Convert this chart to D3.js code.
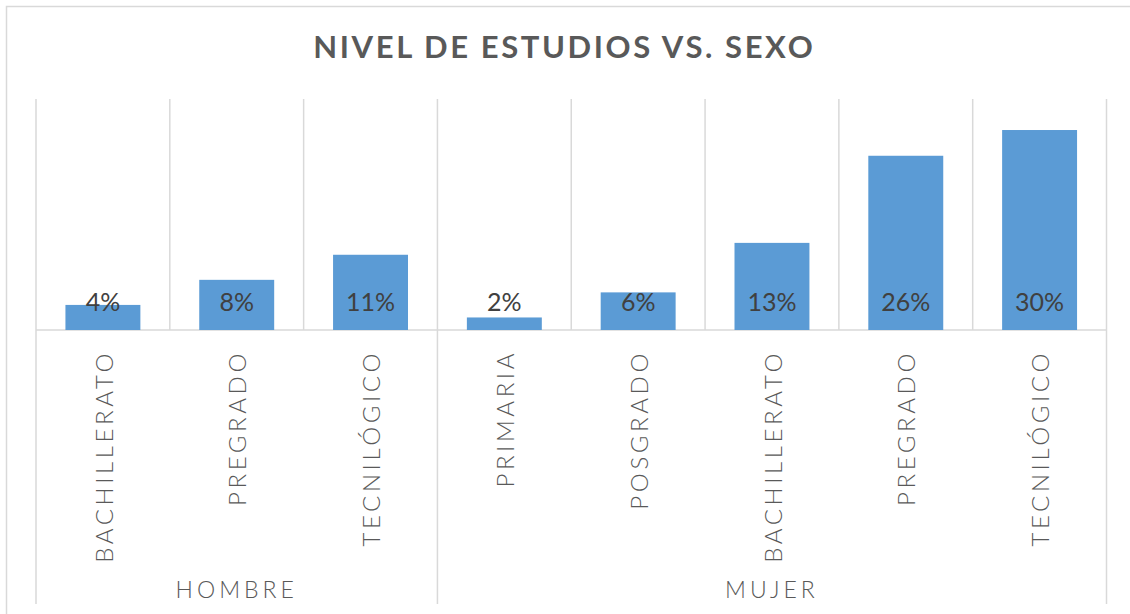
<!DOCTYPE html>
<html>
<head>
<meta charset="utf-8">
<script src="https://cdn.jsdelivr.net/npm/d3@7"></script>
<style>
  body { margin: 0; background: #fff; }
  svg { display: block; }
</style>
</head>
<body>
<svg id="chart" width="1130" height="614"></svg>
<script>
const title = "NIVEL DE ESTUDIOS VS. SEXO";
const groups = ["HOMBRE", "MUJER"];
const groupOf = ["HOMBRE", "HOMBRE", "HOMBRE", "MUJER", "MUJER", "MUJER", "MUJER", "MUJER"];
const categories = ["BACHILLERATO", "PREGRADO", "TECNILÓGICO", "PRIMARIA", "POSGRADO", "BACHILLERATO", "PREGRADO", "TECNILÓGICO"];
const values = [0.038, 0.076, 0.114, 0.019, 0.057, 0.132, 0.264, 0.303];
const yMax = 0.35;

(function () {
const svg = d3.select("#chart");
const W = 1130, H = 614;
const pLeft = 36, pRight = 1106.5, pTop = 99, base = 330;

svg.append("rect").attr("x", 0).attr("y", 0).attr("width", W).attr("height", H).attr("fill", "#fff");
svg.append("rect").attr("x", 6.5).attr("y", 6.5).attr("width", W + 20).attr("height", H + 20)
  .attr("fill", "none").attr("stroke", "#d9d9d9").attr("stroke-width", 1.5);

const idx = d3.range(categories.length);
const x = d3.scaleBand().domain(idx).range([pLeft, pRight]).padding(0);
const y = d3.scaleLinear().domain([0, yMax]).range([base, pTop]);
const barW = x.bandwidth() * 0.56;

const grid = svg.append("g").attr("stroke", "#d9d9d9").attr("stroke-width", 1.5);
idx.concat([categories.length]).forEach(i => {
  const xp = i < categories.length ? x(i) : x(categories.length - 1) + x.bandwidth();
  const isGroupEdge = i === 0 || i === categories.length || groupOf[i] !== groupOf[i - 1];
  grid.append("line").attr("x1", xp).attr("x2", xp).attr("y1", pTop).attr("y2", isGroupEdge ? 604 : base);
});
svg.append("line").attr("x1", pLeft).attr("x2", pRight).attr("y1", base).attr("y2", base)
  .attr("stroke", "#d9d9d9").attr("stroke-width", 1.5);

svg.append("g").selectAll("rect").data(values).join("rect")
  .attr("x", (d, i) => x(i) + (x.bandwidth() - barW) / 2)
  .attr("width", barW)
  .attr("y", d => y(d))
  .attr("height", d => base - y(d))
  .attr("fill", "#5b9bd5");

svg.append("g").selectAll("text").data(values).join("text")
  .attr("x", (d, i) => x(i) + x.bandwidth() / 2)
  .attr("y", 311)
  .attr("text-anchor", "middle")
  .attr("font-family", "Lato, 'Open Sans', sans-serif")
  .attr("font-size", 25)
  .attr("fill", "#404040")
  .text(d => d3.format(".0%")(d));

svg.append("text").attr("x", 563 + 1.3).attr("y", 58).attr("text-anchor", "middle")
  .attr("font-family", "Lato, 'Open Sans', sans-serif").attr("font-weight", "bold")
  .attr("font-size", 31).attr("letter-spacing", 2.6).attr("fill", "#595959")
  .text(title);

const catLS = 3.6;
svg.append("g").selectAll("text").data(categories).join("text")
  .attr("transform", (d, i) => `translate(${x(i) + x.bandwidth() / 2 + 1},350) rotate(-90)`)
  .attr("text-anchor", "end")
  .attr("dy", "0.36em")
  .attr("font-family", "Lato, 'Open Sans', sans-serif")
  .attr("font-weight", 300)
  .attr("font-size", 24)
  .attr("letter-spacing", catLS)
  .attr("fill", "#595959")
  .text(d => d);

groups.forEach(g => {
  const ids = idx.filter(i => groupOf[i] === g);
  const x0 = x(ids[0]), x1 = x(ids[ids.length - 1]) + x.bandwidth();
  svg.append("text").attr("x", (x0 + x1) / 2).attr("y", 598).attr("text-anchor", "middle")
    .attr("font-family", "Lato, 'Open Sans', sans-serif").attr("font-weight", 300)
    .attr("font-size", 23).attr("letter-spacing", 4).attr("fill", "#595959")
    .text(g);
});
})();
</script>
</body>
</html>
